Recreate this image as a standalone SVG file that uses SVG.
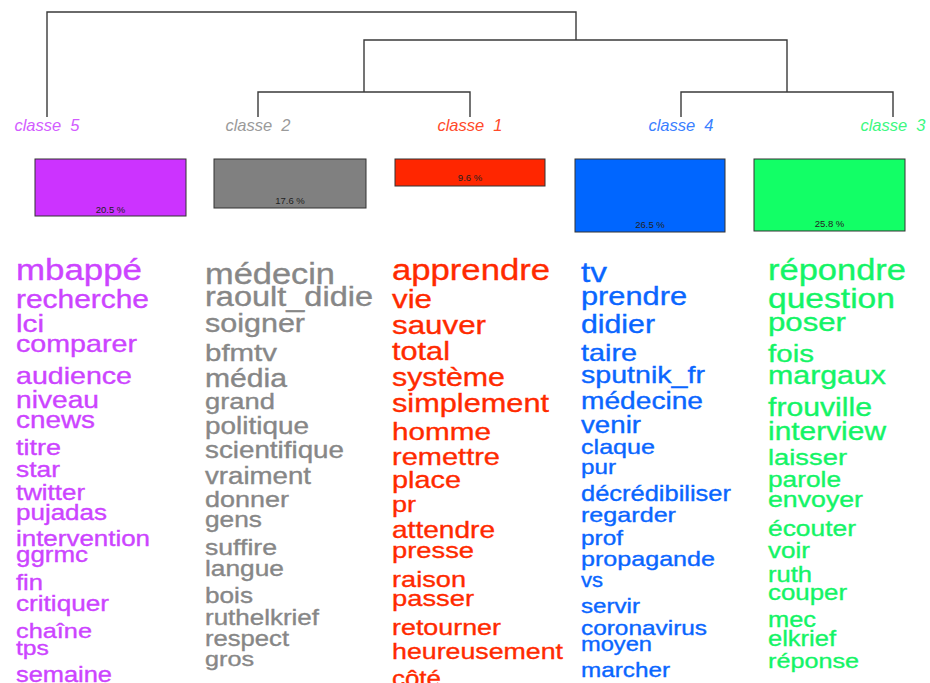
<svg xmlns="http://www.w3.org/2000/svg" width="930" height="683" viewBox="0 0 930 683">
<style>
text{font-family:"Liberation Sans",Arial,Helvetica,sans-serif}
.lbl{font-size:16.5px;font-style:italic;text-anchor:middle;white-space:pre}
.pct{font-size:9.5px;fill:#222;text-anchor:middle}
.bar{stroke:#333;stroke-width:1}
.w text{stroke-width:0.35px}
.c5{fill:#CC44FF;stroke:#CC44FF}.c2{fill:#878787;stroke:#878787}.c1{fill:#FF2A00;stroke:#FF2A00}.c4{fill:#0A66FF;stroke:#0A66FF}.c3{fill:#14F466;stroke:#14F466}
.l5{fill:#D25CFF}.l2{fill:#9A9A9A}.l1{fill:#FF4A2A}.l4{fill:#3A80FF}.l3{fill:#3CF880}
.edge{fill:none;stroke:#3a3a3a;stroke-width:1.4}
</style>
<rect width="930" height="683" fill="#fff"/>
<g id="connectors">
<path class="edge" d="M47,117 V12 H576 V40"/>
<path class="edge" d="M364,92 V40 H787 V92"/>
<path class="edge" d="M258,117 V92 H470 V117"/>
<path class="edge" d="M681,117 V92 H893 V117"/>
</g>
<g id="classe5">
<text class="lbl l5" x="47" y="131" xml:space="preserve">classe  5</text>
<rect class="bar" x="35" y="159" width="151" height="57" fill="#CC33FF"/>
<text class="pct" x="110.5" y="213">20.5 %</text>
<g class="w c5">
<text x="16" y="280" font-size="29" textLength="126" lengthAdjust="spacingAndGlyphs">mbappé</text>
<text x="16" y="308" font-size="25" textLength="133" lengthAdjust="spacingAndGlyphs">recherche</text>
<text x="16" y="332" font-size="24.7" textLength="28" lengthAdjust="spacingAndGlyphs">lci</text>
<text x="16" y="352" font-size="24" textLength="121" lengthAdjust="spacingAndGlyphs">comparer</text>
<text x="16" y="384" font-size="23.8" textLength="116" lengthAdjust="spacingAndGlyphs">audience</text>
<text x="16" y="408" font-size="23.5" textLength="83" lengthAdjust="spacingAndGlyphs">niveau</text>
<text x="16" y="428" font-size="23.2" textLength="79" lengthAdjust="spacingAndGlyphs">cnews</text>
<text x="16" y="455" font-size="22.5" textLength="45" lengthAdjust="spacingAndGlyphs">titre</text>
<text x="16" y="477" font-size="22" textLength="44" lengthAdjust="spacingAndGlyphs">star</text>
<text x="16" y="500" font-size="21.6" textLength="69" lengthAdjust="spacingAndGlyphs">twitter</text>
<text x="16" y="520" font-size="21.6" textLength="91" lengthAdjust="spacingAndGlyphs">pujadas</text>
<text x="16" y="546" font-size="21.6" textLength="134" lengthAdjust="spacingAndGlyphs">intervention</text>
<text x="16" y="562" font-size="21.6" textLength="72" lengthAdjust="spacingAndGlyphs">ggrmc</text>
<text x="16" y="590" font-size="21.3" textLength="27" lengthAdjust="spacingAndGlyphs">fin</text>
<text x="16" y="611" font-size="21.8" textLength="93" lengthAdjust="spacingAndGlyphs">critiquer</text>
<text x="16" y="638" font-size="21" textLength="76" lengthAdjust="spacingAndGlyphs">chaîne</text>
<text x="16" y="655" font-size="20.6" textLength="33" lengthAdjust="spacingAndGlyphs">tps</text>
<text x="16" y="682" font-size="21.2" textLength="96" lengthAdjust="spacingAndGlyphs">semaine</text>
</g>
</g>
<g id="classe2">
<text class="lbl l2" x="258" y="131" xml:space="preserve">classe  2</text>
<rect class="bar" x="214" y="159" width="152" height="49" fill="#808080"/>
<text class="pct" x="290" y="204">17.6 %</text>
<g class="w c2">
<text x="205" y="284" font-size="28.7" textLength="130" lengthAdjust="spacingAndGlyphs">médecin</text>
<text x="205" y="306" font-size="27" textLength="168" lengthAdjust="spacingAndGlyphs">raoult_didie</text>
<text x="205" y="332" font-size="25.4" textLength="100" lengthAdjust="spacingAndGlyphs">soigner</text>
<text x="205" y="361" font-size="24.5" textLength="72" lengthAdjust="spacingAndGlyphs">bfmtv</text>
<text x="205" y="387" font-size="25" textLength="82" lengthAdjust="spacingAndGlyphs">média</text>
<text x="205" y="409" font-size="22.8" textLength="70" lengthAdjust="spacingAndGlyphs">grand</text>
<text x="205" y="434" font-size="23.3" textLength="104" lengthAdjust="spacingAndGlyphs">politique</text>
<text x="205" y="458" font-size="23.4" textLength="139" lengthAdjust="spacingAndGlyphs">scientifique</text>
<text x="205" y="484" font-size="23" textLength="106" lengthAdjust="spacingAndGlyphs">vraiment</text>
<text x="205" y="507" font-size="22.5" textLength="84" lengthAdjust="spacingAndGlyphs">donner</text>
<text x="205" y="527" font-size="21.9" textLength="57" lengthAdjust="spacingAndGlyphs">gens</text>
<text x="205" y="555" font-size="22" textLength="72" lengthAdjust="spacingAndGlyphs">suffire</text>
<text x="205" y="576" font-size="21.9" textLength="79" lengthAdjust="spacingAndGlyphs">langue</text>
<text x="205" y="603" font-size="21.8" textLength="48" lengthAdjust="spacingAndGlyphs">bois</text>
<text x="205" y="625" font-size="21.6" textLength="114" lengthAdjust="spacingAndGlyphs">ruthelkrief</text>
<text x="205" y="646" font-size="21.3" textLength="84" lengthAdjust="spacingAndGlyphs">respect</text>
<text x="205" y="666" font-size="21" textLength="49" lengthAdjust="spacingAndGlyphs">gros</text>
</g>
</g>
<g id="classe1">
<text class="lbl l1" x="470" y="131" xml:space="preserve">classe  1</text>
<rect class="bar" x="395" y="159" width="150" height="27" fill="#FF2600"/>
<text class="pct" x="470" y="181">9.6 %</text>
<g class="w c1">
<text x="392" y="280" font-size="28.9" textLength="158" lengthAdjust="spacingAndGlyphs">apprendre</text>
<text x="392" y="308" font-size="26" textLength="40" lengthAdjust="spacingAndGlyphs">vie</text>
<text x="392" y="334" font-size="26" textLength="94" lengthAdjust="spacingAndGlyphs">sauver</text>
<text x="392" y="360" font-size="25.6" textLength="58" lengthAdjust="spacingAndGlyphs">total</text>
<text x="392" y="386" font-size="25.3" textLength="113" lengthAdjust="spacingAndGlyphs">système</text>
<text x="392" y="412" font-size="25.6" textLength="157" lengthAdjust="spacingAndGlyphs">simplement</text>
<text x="392" y="440" font-size="24.7" textLength="99" lengthAdjust="spacingAndGlyphs">homme</text>
<text x="392" y="465" font-size="24.2" textLength="108" lengthAdjust="spacingAndGlyphs">remettre</text>
<text x="392" y="488" font-size="24.1" textLength="69" lengthAdjust="spacingAndGlyphs">place</text>
<text x="392" y="512" font-size="22.5" textLength="24" lengthAdjust="spacingAndGlyphs">pr</text>
<text x="392" y="538" font-size="23.4" textLength="103" lengthAdjust="spacingAndGlyphs">attendre</text>
<text x="392" y="558" font-size="22.8" textLength="82" lengthAdjust="spacingAndGlyphs">presse</text>
<text x="392" y="587" font-size="22.6" textLength="74" lengthAdjust="spacingAndGlyphs">raison</text>
<text x="392" y="606" font-size="22.8" textLength="82" lengthAdjust="spacingAndGlyphs">passer</text>
<text x="392" y="635" font-size="22.4" textLength="109" lengthAdjust="spacingAndGlyphs">retourner</text>
<text x="392" y="659" font-size="22.3" textLength="171" lengthAdjust="spacingAndGlyphs">heureusement</text>
<text x="392" y="686" font-size="21.6" textLength="49" lengthAdjust="spacingAndGlyphs">côté</text>
</g>
</g>
<g id="classe4">
<text class="lbl l4" x="681" y="131" xml:space="preserve">classe  4</text>
<rect class="bar" x="575" y="159" width="150" height="73" fill="#0066FF"/>
<text class="pct" x="650" y="228">26.5 %</text>
<g class="w c4">
<text x="581" y="282" font-size="28" textLength="26" lengthAdjust="spacingAndGlyphs">tv</text>
<text x="581" y="305" font-size="25.6" textLength="106" lengthAdjust="spacingAndGlyphs">prendre</text>
<text x="581" y="333" font-size="25.2" textLength="74" lengthAdjust="spacingAndGlyphs">didier</text>
<text x="581" y="361" font-size="24" textLength="56" lengthAdjust="spacingAndGlyphs">taire</text>
<text x="581" y="383" font-size="23.8" textLength="124" lengthAdjust="spacingAndGlyphs">sputnik_fr</text>
<text x="581" y="409" font-size="23.5" textLength="122" lengthAdjust="spacingAndGlyphs">médecine</text>
<text x="581" y="433" font-size="23" textLength="60" lengthAdjust="spacingAndGlyphs">venir</text>
<text x="581" y="454" font-size="21" textLength="74" lengthAdjust="spacingAndGlyphs">claque</text>
<text x="581" y="474" font-size="20.2" textLength="35" lengthAdjust="spacingAndGlyphs">pur</text>
<text x="581" y="501" font-size="21.2" textLength="150" lengthAdjust="spacingAndGlyphs">décrédibiliser</text>
<text x="581" y="522" font-size="21" textLength="95" lengthAdjust="spacingAndGlyphs">regarder</text>
<text x="581" y="545" font-size="20.3" textLength="42" lengthAdjust="spacingAndGlyphs">prof</text>
<text x="581" y="566" font-size="21" textLength="134" lengthAdjust="spacingAndGlyphs">propagande</text>
<text x="581" y="587" font-size="20" textLength="22" lengthAdjust="spacingAndGlyphs">vs</text>
<text x="581" y="613" font-size="20.1" textLength="59" lengthAdjust="spacingAndGlyphs">servir</text>
<text x="581" y="635" font-size="20.3" textLength="126" lengthAdjust="spacingAndGlyphs">coronavirus</text>
<text x="581" y="651" font-size="19.7" textLength="71" lengthAdjust="spacingAndGlyphs">moyen</text>
<text x="581" y="677" font-size="20.2" textLength="89" lengthAdjust="spacingAndGlyphs">marcher</text>
</g>
</g>
<g id="classe3">
<text class="lbl l3" x="893" y="131" xml:space="preserve">classe  3</text>
<rect class="bar" x="754" y="159" width="151" height="72" fill="#12FF66"/>
<text class="pct" x="829.5" y="227">25.8 %</text>
<g class="w c3">
<text x="768" y="280" font-size="28.7" textLength="138" lengthAdjust="spacingAndGlyphs">répondre</text>
<text x="768" y="308" font-size="28" textLength="127" lengthAdjust="spacingAndGlyphs">question</text>
<text x="768" y="331" font-size="26" textLength="78" lengthAdjust="spacingAndGlyphs">poser</text>
<text x="768" y="362" font-size="24.7" textLength="46" lengthAdjust="spacingAndGlyphs">fois</text>
<text x="768" y="384" font-size="25.3" textLength="118" lengthAdjust="spacingAndGlyphs">margaux</text>
<text x="768" y="416" font-size="25.2" textLength="104" lengthAdjust="spacingAndGlyphs">frouville</text>
<text x="768" y="440" font-size="24.9" textLength="118" lengthAdjust="spacingAndGlyphs">interview</text>
<text x="768" y="465" font-size="22.8" textLength="79" lengthAdjust="spacingAndGlyphs">laisser</text>
<text x="768" y="487" font-size="21.9" textLength="73" lengthAdjust="spacingAndGlyphs">parole</text>
<text x="768" y="507" font-size="22.3" textLength="95" lengthAdjust="spacingAndGlyphs">envoyer</text>
<text x="768" y="536" font-size="22" textLength="88" lengthAdjust="spacingAndGlyphs">écouter</text>
<text x="768" y="558" font-size="21.7" textLength="42" lengthAdjust="spacingAndGlyphs">voir</text>
<text x="768" y="582" font-size="21.3" textLength="44" lengthAdjust="spacingAndGlyphs">ruth</text>
<text x="768" y="600" font-size="21.5" textLength="79" lengthAdjust="spacingAndGlyphs">couper</text>
<text x="768" y="627" font-size="21.2" textLength="48" lengthAdjust="spacingAndGlyphs">mec</text>
<text x="768" y="646" font-size="21.3" textLength="68" lengthAdjust="spacingAndGlyphs">elkrief</text>
<text x="768" y="668" font-size="21" textLength="91" lengthAdjust="spacingAndGlyphs">réponse</text>
</g>
</g>
</svg>
